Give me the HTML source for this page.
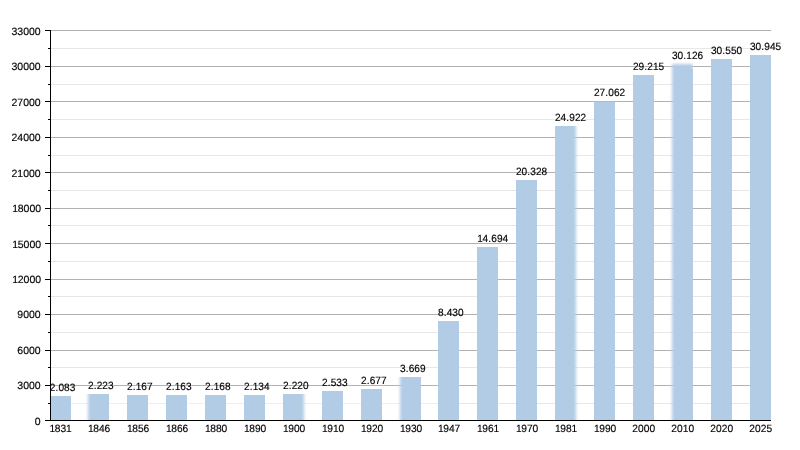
<!DOCTYPE html>
<html lang="it"><head><meta charset="utf-8"><title>Grafico abitanti</title>
<style>html,body{margin:0;padding:0;background:#fff;overflow:hidden}svg{display:block}text{font-family:"Liberation Sans",Arial,Helvetica,sans-serif;fill:#000;stroke:#000;stroke-width:0.15px;text-rendering:geometricPrecision}</style></head><body>
<svg width="800" height="450" viewBox="0 0 800 450" role="img" aria-label="Abitanti censiti">
<rect width="800" height="450" fill="#fff"/>
<g fill="#e7e7e7">
<rect x="51" y="48" width="720.0" height="1"/>
<rect x="51" y="84" width="720.0" height="1"/>
<rect x="51" y="119" width="720.0" height="1"/>
<rect x="51" y="155" width="720.0" height="1"/>
<rect x="51" y="190" width="720.0" height="1"/>
<rect x="51" y="225" width="720.0" height="1"/>
<rect x="51" y="261" width="720.0" height="1"/>
<rect x="51" y="296" width="720.0" height="1"/>
<rect x="51" y="332" width="720.0" height="1"/>
<rect x="51" y="367" width="720.0" height="1"/>
<rect x="51" y="403" width="387" height="1" fill="#efefef"/>
<rect x="438" y="403" width="333.0" height="1"/>
</g>
<g fill="#b2b2b2">
<rect x="51" y="30" width="720.0" height="1"/>
<rect x="51" y="66" width="720.0" height="1"/>
<rect x="51" y="101" width="720.0" height="1"/>
<rect x="51" y="137" width="720.0" height="1"/>
<rect x="51" y="172" width="720.0" height="1"/>
<rect x="51" y="208" width="720.0" height="1"/>
<rect x="51" y="243" width="720.0" height="1"/>
<rect x="51" y="279" width="720.0" height="1"/>
<rect x="51" y="314" width="720.0" height="1"/>
<rect x="51" y="350" width="720.0" height="1"/>
<rect x="51" y="385" width="720.0" height="1"/>
</g>
<g fill="#b2cce5">
<rect x="51.00" y="396" width="20.0" height="24"/>
<rect x="127.00" y="395" width="21" height="25"/>
<rect x="166.00" y="395" width="21" height="25"/>
<rect x="205.00" y="395" width="21" height="25"/>
<rect x="244.00" y="395" width="21" height="25"/>
<rect x="322.00" y="391" width="21" height="29"/>
<rect x="361.00" y="389" width="21" height="31"/>
<rect x="438.00" y="321" width="21" height="99"/>
<rect x="477.00" y="247" width="21" height="173"/>
<rect x="516.00" y="180" width="21" height="240"/>
<rect x="594.00" y="101" width="21" height="319"/>
<rect x="633.00" y="75" width="21" height="345"/>
<rect x="711.00" y="59" width="21" height="361"/>
<rect x="750.00" y="55" width="21" height="365"/>
</g>
<rect x="594" y="101" width="21" height="1" fill="#a9bed3"/>
<defs><filter id="sb" x="-50%" y="-10%" width="200%" height="120%"><feGaussianBlur stdDeviation="1.4"/></filter></defs>
<clipPath id="c1"><rect x="82" y="394" width="27" height="26"/></clipPath>
<g clip-path="url(#c1)"><rect x="88" y="382" width="21" height="58" fill="#b2cce5" filter="url(#sb)"/></g>
<rect x="93" y="394" width="16" height="26" fill="#b2cce5"/>
<clipPath id="c6"><rect x="283" y="394" width="27" height="26"/></clipPath>
<g clip-path="url(#c6)"><rect x="283" y="382" width="21" height="58" fill="#b2cce5" filter="url(#sb)"/></g>
<rect x="283" y="394" width="16" height="26" fill="#b2cce5"/>
<clipPath id="c9"><rect x="394" y="377" width="27" height="43"/></clipPath>
<g clip-path="url(#c9)"><rect x="400" y="365" width="21" height="75" fill="#b2cce5" filter="url(#sb)"/></g>
<rect x="405" y="377" width="16" height="43" fill="#b2cce5"/>
<clipPath id="c13"><rect x="555" y="126" width="27" height="294"/></clipPath>
<g clip-path="url(#c13)"><rect x="555" y="114" width="21" height="326" fill="#b2cce5" filter="url(#sb)"/></g>
<rect x="555" y="126" width="16" height="294" fill="#b2cce5"/>
<clipPath id="c16"><rect x="666" y="58" width="27" height="362"/></clipPath>
<g clip-path="url(#c16)"><rect x="672" y="64" width="21" height="388" fill="#b2cce5" filter="url(#sb)"/></g>
<rect x="677" y="69" width="16" height="351" fill="#b2cce5"/>
<g fill="#000">
<rect x="50" y="30" width="1" height="391"/>
<rect x="45" y="420" width="726.0" height="1"/>
<rect x="45" y="30" width="5" height="1"/>
<rect x="48" y="48" width="2" height="1"/>
<rect x="45" y="66" width="5" height="1"/>
<rect x="48" y="84" width="2" height="1"/>
<rect x="45" y="101" width="5" height="1"/>
<rect x="48" y="119" width="2" height="1"/>
<rect x="45" y="137" width="5" height="1"/>
<rect x="48" y="155" width="2" height="1"/>
<rect x="45" y="172" width="5" height="1"/>
<rect x="48" y="190" width="2" height="1"/>
<rect x="45" y="208" width="5" height="1"/>
<rect x="48" y="225" width="2" height="1"/>
<rect x="45" y="243" width="5" height="1"/>
<rect x="48" y="261" width="2" height="1"/>
<rect x="45" y="279" width="5" height="1"/>
<rect x="48" y="296" width="2" height="1"/>
<rect x="45" y="314" width="5" height="1"/>
<rect x="48" y="332" width="2" height="1"/>
<rect x="45" y="350" width="5" height="1"/>
<rect x="48" y="367" width="2" height="1"/>
<rect x="45" y="385" width="5" height="1"/>
<rect x="48" y="403" width="2" height="1"/>
</g>
<g font-size="10.55" text-anchor="end">
<text transform="translate(40.7 34.8) scale(0.994 1)">33000</text>
<text transform="translate(40.7 69.8) scale(0.994 1)">30000</text>
<text transform="translate(40.7 105.8) scale(0.994 1)">27000</text>
<text transform="translate(40.7 140.8) scale(0.994 1)">24000</text>
<text transform="translate(40.7 176.8) scale(0.994 1)">21000</text>
<text transform="translate(40.7 211.8) scale(0.994 1)" dx="0.4 -0.4">18000</text>
<text transform="translate(40.7 247.8) scale(0.994 1)" dx="0.4 -0.4">15000</text>
<text transform="translate(40.7 282.8) scale(0.994 1)" dx="0.4 -0.4">12000</text>
<text transform="translate(40.7 317.8) scale(0.994 1)">9000</text>
<text transform="translate(40.7 353.8) scale(0.994 1)">6000</text>
<text transform="translate(40.7 388.8) scale(0.994 1)">3000</text>
<text transform="translate(40.7 424.8) scale(0.994 1)">0</text>
</g>
<g font-size="10.55" text-anchor="middle">
<text transform="translate(60.20 431.9) scale(0.968 1)" dx="0.4 -0.4">1831</text>
<text transform="translate(98.70 431.9) scale(0.968 1)" dx="0.4 -0.4">1846</text>
<text transform="translate(137.70 431.9) scale(0.968 1)" dx="0.4 -0.4">1856</text>
<text transform="translate(176.70 431.9) scale(0.968 1)" dx="0.4 -0.4">1866</text>
<text transform="translate(215.70 431.9) scale(0.968 1)" dx="0.4 -0.4">1880</text>
<text transform="translate(254.70 431.9) scale(0.968 1)" dx="0.4 -0.4">1890</text>
<text transform="translate(293.70 431.9) scale(0.968 1)" dx="0.4 -0.4">1900</text>
<text transform="translate(332.70 431.9) scale(0.968 1)" dx="0.4 -0.4">1910</text>
<text transform="translate(371.70 431.9) scale(0.968 1)" dx="0.4 -0.4">1920</text>
<text transform="translate(410.70 431.9) scale(0.968 1)" dx="0.4 -0.4">1930</text>
<text transform="translate(448.70 431.9) scale(0.968 1)" dx="0.4 -0.4">1947</text>
<text transform="translate(487.70 431.9) scale(0.968 1)" dx="0.4 -0.4">1961</text>
<text transform="translate(526.70 431.9) scale(0.968 1)" dx="0.4 -0.4">1970</text>
<text transform="translate(565.70 431.9) scale(0.968 1)" dx="0.4 -0.4">1981</text>
<text transform="translate(604.70 431.9) scale(0.968 1)" dx="0.4 -0.4">1990</text>
<text transform="translate(643.70 431.9) scale(0.968 1)">2000</text>
<text transform="translate(682.70 431.9) scale(0.968 1)">2010</text>
<text transform="translate(721.70 431.9) scale(0.968 1)">2020</text>
<text transform="translate(760.70 431.9) scale(0.968 1)">2025</text>
</g>
<g font-size="10.55" text-anchor="start">
<text transform="translate(49.70 390.70) scale(0.956 1)" dx="0 0.1 0.25 0 0">2.083</text>
<text transform="translate(88.00 388.70) scale(0.956 1)" dx="0 0.1 0.25 0 0">2.223</text>
<text transform="translate(127.00 389.70) scale(0.956 1)" dx="0 0.1 0.25 0 0">2.167</text>
<text transform="translate(166.00 389.70) scale(0.956 1)" dx="0 0.1 0.25 0 0">2.163</text>
<text transform="translate(205.00 389.70) scale(0.956 1)" dx="0 0.1 0.25 0 0">2.168</text>
<text transform="translate(244.00 389.70) scale(0.956 1)" dx="0 0.1 0.25 0 0">2.134</text>
<text transform="translate(283.00 388.70) scale(0.956 1)" dx="0 0.1 0.25 0 0">2.220</text>
<text transform="translate(322.00 385.70) scale(0.956 1)" dx="0 0.1 0.25 0 0">2.533</text>
<text transform="translate(361.00 383.70) scale(0.956 1)" dx="0 0.1 0.25 0 0">2.677</text>
<text transform="translate(400.00 371.70) scale(0.956 1)" dx="0 0.1 0.25 0 0">3.669</text>
<text transform="translate(438.00 315.70) scale(0.956 1)" dx="0 0.1 0.25 0 0">8.430</text>
<text transform="translate(477.00 241.70) scale(0.956 1)" dx="0.4 -0.4 0.1 0.25 0 0">14.694</text>
<text transform="translate(516.00 174.70) scale(0.956 1)" dx="0 0 0.1 0.25 0 0">20.328</text>
<text transform="translate(555.00 120.70) scale(0.956 1)" dx="0 0 0.1 0.25 0 0">24.922</text>
<text transform="translate(594.00 95.70) scale(0.956 1)" dx="0 0 0.1 0.25 0 0">27.062</text>
<text transform="translate(633.00 69.70) scale(0.956 1)" dx="0 0 0.1 0.25 0 0">29.215</text>
<text transform="translate(672.00 58.70) scale(0.956 1)" dx="0 0 0.1 0.25 0 0">30.126</text>
<text transform="translate(711.00 53.70) scale(0.956 1)" dx="0 0 0.1 0.25 0 0">30.550</text>
<text transform="translate(750.00 49.70) scale(0.956 1)" dx="0 0 0.1 0.25 0 0">30.945</text>
</g>
</svg></body></html>
